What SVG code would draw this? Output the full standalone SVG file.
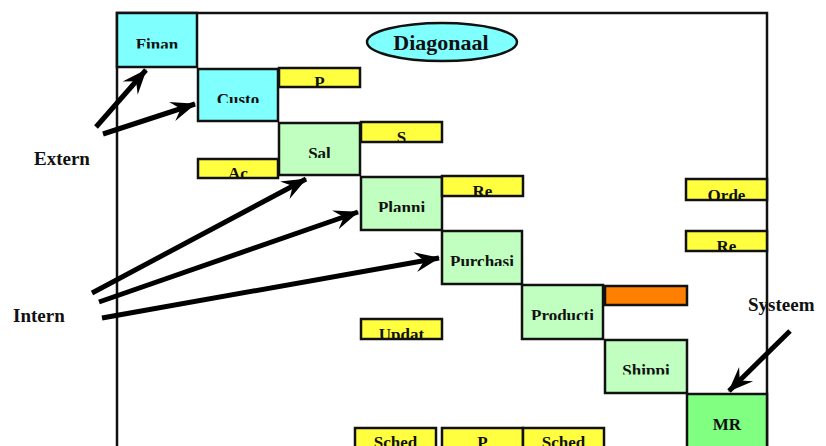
<svg xmlns="http://www.w3.org/2000/svg" width="826" height="446" viewBox="0 0 826 446">
<style>
.bx{stroke:#111;stroke-width:2.5}
.cy{fill:#80FFFF}
.lg{fill:#C0FFC0}
.yl{fill:#FFFF40}
.or{fill:#FF8000}
.mr{fill:#80FF80}
.t{font-family:"Liberation Serif","Times New Roman",serif;font-weight:bold;font-size:17px;fill:#111;text-anchor:middle}
.lb{font-family:"Liberation Serif","Times New Roman",serif;font-weight:bold;font-size:19px;fill:#111}
.ar{stroke:#000;stroke-width:5;fill:none;marker-end:url(#ah)}
</style>
<defs>
<marker id="ah" markerUnits="userSpaceOnUse" markerWidth="30" markerHeight="24" refX="0" refY="0" viewBox="-26 -12 30 24" orient="auto">
<path d="M1,0 L-24,-10 L-15,0 L-24,10 Z" fill="#000"/>
</marker>
<clipPath id="c1"><rect x="117" y="13" width="80" height="35.5"/></clipPath>
<clipPath id="c2"><rect x="198" y="69" width="80" height="34"/></clipPath>
<clipPath id="c3"><rect x="279" y="68" width="81" height="18.5"/></clipPath>
<clipPath id="c4"><rect x="279" y="123" width="81" height="35"/></clipPath>
<clipPath id="c5"><rect x="198" y="159" width="80" height="18.5"/></clipPath>
<clipPath id="c6"><rect x="361" y="122" width="81" height="19.5"/></clipPath>
<clipPath id="c7"><rect x="361" y="177" width="81" height="35"/></clipPath>
<clipPath id="c8"><rect x="442" y="176" width="81" height="19.5"/></clipPath>
<clipPath id="c9"><rect x="442" y="231" width="80" height="35"/></clipPath>
<clipPath id="c10"><rect x="522" y="285" width="81" height="35"/></clipPath>
<clipPath id="c11"><rect x="686" y="179" width="81" height="20.5"/></clipPath>
<clipPath id="c12"><rect x="686" y="231" width="81" height="19.5"/></clipPath>
<clipPath id="c13"><rect x="605" y="340" width="82" height="34.5"/></clipPath>
<clipPath id="c14"><rect x="361" y="319" width="81" height="19.5"/></clipPath>
</defs>
<rect width="826" height="446" fill="#fff"/>
<rect x="117" y="13" width="650" height="460" fill="none" stroke="#111" stroke-width="2.5"/>

<g id="diagonaal">
<ellipse cx="442" cy="42" rx="75" ry="19" fill="#80FFFF" stroke="#111" stroke-width="2.5"/>
<text x="441" y="50" class="t" style="font-size:22px">Diagonaal</text>
</g>

<g id="finan"><rect x="117" y="13" width="80" height="54" class="bx cy"/><text x="157" y="50" class="t" clip-path="url(#c1)">Finan</text></g>
<g id="custo"><rect x="198" y="69" width="80" height="52" class="bx cy"/><text x="238" y="105" class="t" clip-path="url(#c2)">Custo</text></g>
<g id="p1"><rect x="279" y="68" width="81" height="19" class="bx yl"/><text x="319.5" y="88" class="t" clip-path="url(#c3)">P</text></g>
<g id="sal"><rect x="279" y="123" width="81" height="52" class="bx lg"/><text x="319.5" y="159" class="t" clip-path="url(#c4)">Sal</text></g>
<g id="ac"><rect x="198" y="159" width="80" height="19" class="bx yl"/><text x="238" y="179" class="t" clip-path="url(#c5)">Ac</text></g>
<g id="s"><rect x="361" y="122" width="81" height="20" class="bx yl"/><text x="401.5" y="143" class="t" clip-path="url(#c6)">S</text></g>
<g id="planni"><rect x="361" y="177" width="81" height="53" class="bx lg"/><text x="401.5" y="213" class="t" clip-path="url(#c7)">Planni</text></g>
<g id="re1"><rect x="442" y="176" width="81" height="20" class="bx yl"/><text x="482.5" y="197" class="t" clip-path="url(#c8)">Re</text></g>
<g id="purchasi"><rect x="442" y="231" width="80" height="53" class="bx lg"/><text x="482" y="267" class="t" clip-path="url(#c9)">Purchasi</text></g>
<g id="producti"><rect x="522" y="285" width="81" height="54" class="bx lg"/><text x="562.5" y="321" class="t" clip-path="url(#c10)">Producti</text></g>
<g id="orange"><rect x="605" y="286" width="82" height="19" class="bx or"/></g>
<g id="orde"><rect x="686" y="179" width="81" height="21" class="bx yl"/><text x="726.5" y="201" class="t" clip-path="url(#c11)">Orde</text></g>
<g id="re2"><rect x="686" y="231" width="81" height="20" class="bx yl"/><text x="726.5" y="252" class="t" clip-path="url(#c12)">Re</text></g>
<g id="shippi"><rect x="605" y="340" width="82" height="53" class="bx lg"/><text x="646" y="376" class="t" clip-path="url(#c13)">Shippi</text></g>
<g id="mr"><rect x="687" y="394" width="80" height="70" class="bx mr"/><text x="727" y="430" class="t">MR</text></g>
<g id="updat"><rect x="361" y="319" width="81" height="20" class="bx yl"/><text x="401.5" y="340" class="t" clip-path="url(#c14)">Updat</text></g>
<g id="sched1"><rect x="355" y="428" width="81" height="30" class="bx yl"/><text x="395.5" y="448" class="t">Sched</text></g>
<g id="p2"><rect x="442" y="428" width="81" height="30" class="bx yl"/><text x="482.5" y="448" class="t">P</text></g>
<g id="sched2"><rect x="523" y="428" width="81" height="30" class="bx yl"/><text x="563.5" y="448" class="t">Sched</text></g>

<g id="labels">
<text x="34" y="165" class="lb">Extern</text>
<text x="13" y="322" class="lb">Intern</text>
<text x="748" y="311" class="lb">Systeem</text>
</g>

<g id="connectors">
<line x1="96" y1="127" x2="146" y2="70" class="ar"/>
<line x1="103" y1="134" x2="195" y2="104" class="ar"/>
<line x1="92" y1="293" x2="306" y2="179" class="ar"/>
<line x1="99" y1="302" x2="358" y2="212" class="ar"/>
<line x1="102" y1="318" x2="439" y2="258" class="ar"/>
<line x1="790" y1="331" x2="729" y2="391" class="ar"/>
</g>
</svg>
